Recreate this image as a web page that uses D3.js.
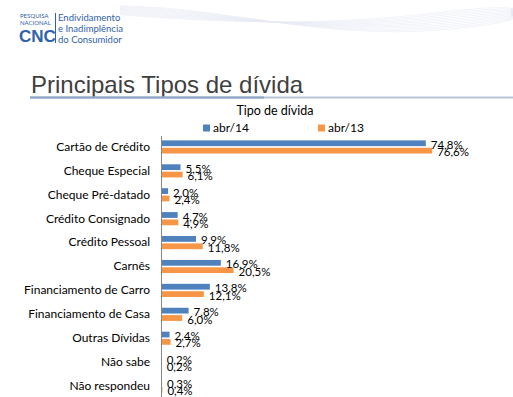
<!DOCTYPE html>
<html>
<head>
<meta charset="utf-8">
<script src="https://cdn.jsdelivr.net/npm/d3@7"></script>
<style>
  body { margin: 0; background: #fff; }
  svg { display: block; }
</style>
</head>
<body>
<script>
// data
var categories = ['Cartão de Crédito', 'Cheque Especial', 'Cheque Pré-datado',
                  'Crédito Consignado', 'Crédito Pessoal', 'Carnês',
                  'Financiamento de Carro', 'Financiamento de Casa',
                  'Outras Dívidas', 'Não sabe', 'Não respondeu'];
var series = ['abr/14', 'abr/13'];
var abr14 = [74.8, 5.5, 2.0, 4.7, 9.9, 16.9, 13.8, 7.8, 2.4, 0.2, 0.3];
var abr13 = [76.6, 6.1, 2.4, 4.9, 11.8, 20.5, 12.1, 6.0, 2.7, 0.2, 0.4];
var colors = ['#4f81bd', '#f79646'];

var width = 513, height = 397;

var svg = d3.select('body').append('svg')
    .attr('width', width)
    .attr('height', height);

/* faint swoosh lines in the header */
var swoosh = svg.append('g').attr('fill', 'none').attr('stroke', '#e4e8f3').attr('stroke-width', 0.5);
d3.range(12).forEach(function(i) {
    swoosh.append('path')
        .attr('d', 'M 120 ' + (6 + i * 0.8) + ' C 220 ' + (6 + i * 1.5) + ', 320 ' + (40 - i * 1.2) + ', 440 ' + (30 - i * 1.6) + ' S 500 ' + (10 + i) + ', 513 ' + (8 + i * 0.7));
});

/* logo */
var logo = svg.append('g').attr('fill', '#2f62ad').style('font-family', 'Lato, sans-serif');
logo.append('text').attr('x', 20).attr('y', 18).style('font-size', '6px').text('PESQUISA');
logo.append('text').attr('x', 20).attr('y', 25).style('font-size', '6px').text('NACIONAL');
logo.append('text').attr('x', 19).attr('y', 42).style('font-size', '17px').style('font-weight', 'bold')
    .style('font-family', '"Liberation Sans", Arial, sans-serif').text('CNC');
logo.append('line').attr('x1', 55.5).attr('x2', 55.5).attr('y1', 13).attr('y2', 43)
    .attr('stroke', '#2f62ad').attr('stroke-width', 1);
logo.append('text').attr('x', 58).attr('y', 21).style('font-size', '9.5px').text('Endividamento');
logo.append('text').attr('x', 58).attr('y', 32).style('font-size', '9.5px').text('e Inadimplência');
logo.append('text').attr('x', 58).attr('y', 43).style('font-size', '9.5px').text('do Consumidor');

/* slide title with underline */
svg.append('text')
    .attr('x', 31).attr('y', 93)
    .style('font-family', '"Liberation Sans", Arial, sans-serif')
    .style('font-size', '24px')
    .attr('fill', '#3f3f3f')
    .text('Principais Tipos de dívida');
svg.append('line').attr('x1', 30).attr('x2', 513).attr('y1', 97.5).attr('y2', 97.5)
    .attr('stroke', '#b6c4d8').attr('stroke-width', 2);
svg.append('line').attr('x1', 30).attr('x2', 264).attr('y1', 97.5).attr('y2', 97.5)
    .attr('stroke', '#8aa3c6').attr('stroke-width', 2);

/* chart title */
svg.append('text')
    .attr('x', 275).attr('y', 115)
    .attr('text-anchor', 'middle')
    .style('font-family', 'Lato, sans-serif')
    .style('font-size', '12.5px')
    .attr('fill', '#000')
    .text('Tipo de dívida');

/* legend */
var legend = svg.append('g').style('font-family', 'Lato, sans-serif').style('font-size', '12px');
var legend_x = [203, 318];
series.forEach(function(s, i) {
    legend.append('rect').attr('x', legend_x[i]).attr('y', 124.5).attr('width', 7).attr('height', 7).attr('fill', colors[i]);
    legend.append('text').attr('x', legend_x[i] + 10).attr('y', 132).attr('fill', '#000').text(s);
});

/* scales */
var x = d3.scaleLinear().domain([0, 100]).range([161, 161 + 354]);
var y = d3.scaleBand().domain(categories).range([135, 398]).paddingInner(0.45).paddingOuter(0.225);
var y_inner = d3.scaleBand().domain(series).range([0, y.bandwidth()]).paddingInner(0.22);

var rows = categories.map(function(c, i) {
    return { cat: c, values: [abr14[i], abr13[i]] };
});

var groups = svg.selectAll('.row').data(rows).enter().append('g')
    .attr('class', 'row')
    .attr('transform', d => 'translate(0,' + y(d.cat) + ')');

groups.selectAll('rect').data(d => d.values.map((v, j) => ({ s: series[j], v: v, j: j })))
    .enter().append('rect')
        .attr('x', x(0))
        .attr('y', d => y_inner(d.s))
        .attr('width', d => Math.max(x(d.v) - x(0), 0.8))
        .attr('height', y_inner.bandwidth())
        .attr('fill', d => colors[d.j]);

groups.selectAll('.val').data(d => d.values.map((v, j) => ({ s: series[j], v: v, j: j })))
    .enter().append('text')
        .attr('class', 'val')
        .attr('x', d => x(d.v) + 5)
        .attr('y', d => y_inner(d.s) + y_inner.bandwidth() / 2 + 1.5)
        .attr('dy', '0.35em')
        .style('font-family', 'Lato, sans-serif')
        .style('font-size', '11.5px')
        .attr('fill', '#000')
        .text(d => d.v.toFixed(1).replace('.', ',') + '%');

/* category axis */
var axis = svg.append('g')
    .attr('transform', 'translate(' + x(0) + ',0)')
    .call(d3.axisLeft(y).tickSize(0).tickPadding(11));
axis.select('.domain').attr('stroke', '#888').attr('d', 'M0.5,136V397');
axis.selectAll('text')
    .style('font-family', 'Lato, sans-serif')
    .style('font-size', '12px')
    .attr('fill', '#000');
</script>
</body>
</html>
